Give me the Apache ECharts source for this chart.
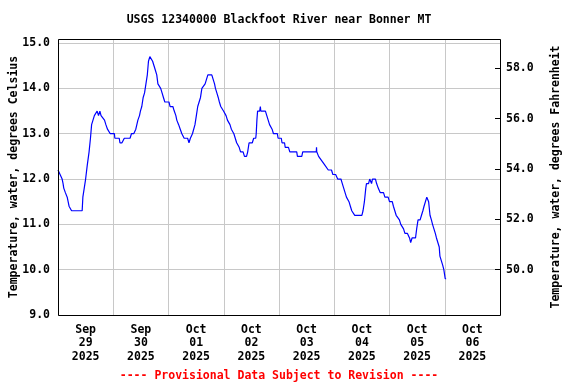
<!DOCTYPE html>
<html><head><meta charset="utf-8">
<script src="https://cdn.jsdelivr.net/npm/echarts@6/dist/echarts.min.js"></script>
<style>html,body{margin:0;padding:0;background:#fff}#c{width:576px;height:384px}</style>
</head><body><div id="c"></div>
<script>
// ---- data ----
const titleText = 'USGS 12340000 Blackfoot River near Bonner MT';
const footerText = '---- Provisional Data Subject to Revision ----';
const leftAxisName = 'Temperature, water, degrees Celsius';
const rightAxisName = 'Temperature, water, degrees Fahrenheit';
const dayLabels = ['Sep\n29\n2025','Sep\n30\n2025','Oct\n01\n2025','Oct\n02\n2025','Oct\n03\n2025','Oct\n04\n2025','Oct\n05\n2025','Oct\n06\n2025'];
const celsiusTicks = [9,10,11,12,13,14,15];
const fahrenheitTicks = [50,52,54,56,58];
// hours since Sep 29 2025 00:00
const hours = [
0,0.9,1.8,2.2,2.5,3.2,4.0,4.4,4.8,5.9,10.5,10.8,11.4,12.0,12.7,13.5,14.1,14.6,15.2,15.8,17.0,17.6,18.2,18.7,19.5,20.2,20.8,21.5,22.7,24.5,24.7,26.6,26.9,27.8,28.8,31.3,31.9,32.9,
33.8,34.7,35.4,35.8,36.4,37.0,37.6,38.2,38.8,39.3,39.9,40.5,41.1,41.7,42.3,42.9,43.4,44.0,44.6,45.2,45.8,46.4,48.2,48.7,49.9,50.5,51.2,51.6,52.4,53.1,53.8,54.8,56.3,56.9,57.5,58.4,59.0,59.5,60.1,60.7,61.3,61.9,62.5,63.3,63.9,64.5,65.1,66.8,67.4,68.0,
68.4,69.0,69.6,70.1,70.7,71.3,71.9,72.4,73.0,73.6,74.1,74.7,75.3,75.9,76.4,77.0,77.6,78.1,78.7,79.3,79.9,80.4,81.0,81.9,82.4,83.0,84.4,85.0,85.9,86.1,86.4,86.7,87.6,87.9,88.1,90.1,90.7,91.3,91.9,92.4,93.0,93.6,94.1,95.3,95.6,97.0,97.3,98.4,98.7,100.1,100.7,102.1,
103.7,104.0,105.9,106.3,112.2,112.3,112.4,113.2,113.9,114.6,115.4,116.0,116.8,117.4,118.8,119.4,120.6,121.5,122.9,123.5,124.1,124.7,125.3,125.8,126.4,127.0,127.6,128.2,128.9,132.0,132.5,133.1,133.7,134.0,134.9,135.4,
136.2,136.6,137.9,138.4,139.1,140.0,141.4,142.0,143.4,144.0,145.2,145.7,146.3,146.9,147.7,148.3,148.9,149.5,150.1,150.7,151.8,152.7,153.2,153.8,155.3,155.8,156.1,156.4,157.3,157.9,158.5,159.0,159.6,160.2,160.5,161.0,161.6,162.2,162.7,163.3,163.9,164.4,165.0,165.6,165.9,166.5,167.1,167.6,167.9,168.2,168.6
];
const tempC = [
12.2,12.1,12.0,11.9,11.8,11.7,11.6,11.5,11.4,11.3,11.3,11.6,11.8,12.0,12.3,12.6,12.9,13.2,13.3,13.4,13.5,13.4,13.5,13.4,13.4,13.3,13.2,13.1,13.0,13.0,12.9,12.9,12.8,12.8,12.9,12.9,13.0,13.0,
13.1,13.3,13.4,13.5,13.6,13.8,13.9,14.1,14.3,14.6,14.7,14.7,14.6,14.5,14.4,14.3,14.1,14.1,14.0,13.9,13.8,13.7,13.7,13.6,13.6,13.5,13.4,13.3,13.2,13.1,13.0,12.9,12.9,12.8,12.9,13.0,13.0,13.2,13.4,13.6,13.7,13.8,14.0,14.0,14.1,14.2,14.3,14.3,14.2,14.1,
14.0,13.9,13.8,13.7,13.6,13.6,13.5,13.5,13.4,13.3,13.3,13.2,13.1,13.1,13.0,12.9,12.8,12.8,12.7,12.6,12.6,12.6,12.5,12.5,12.6,12.8,12.8,12.9,12.9,13.0,13.3,13.5,13.5,13.6,13.5,13.5,13.4,13.3,13.2,13.2,13.1,13.0,13.0,13.0,12.9,12.9,12.8,12.8,12.7,12.7,12.6,12.6,
12.6,12.5,12.5,12.6,12.6,12.7,12.6,12.5,12.5,12.4,12.4,12.3,12.3,12.2,12.2,12.1,12.1,12.0,12.0,11.9,11.8,11.7,11.6,11.6,11.5,11.4,11.3,11.3,11.2,11.2,11.3,11.5,11.8,11.9,11.9,12.0,
11.9,12.0,12.0,11.9,11.8,11.7,11.7,11.6,11.6,11.5,11.5,11.4,11.3,11.2,11.2,11.1,11.0,11.0,10.9,10.8,10.8,10.7,10.6,10.7,10.7,10.9,11.0,11.1,11.1,11.2,11.3,11.4,11.4,11.6,11.6,11.5,11.2,11.1,11.0,10.9,10.8,10.7,10.6,10.5,10.3,10.2,10.1,10.0,9.9,9.8,9.8
];

// ---- layout / style ----
const G = {left: 58, top: 39, width: 442, height: 276};
const FONT = 'DejaVu Sans Mono';
const FS = 11.5;
const cMin = 9, cMax = 15.09;
const toF = c => c * 1.8 + 32;

const chart = echarts.init(document.getElementById('c'), null, {renderer: 'canvas'});
chart.setOption({
  animation: false,
  backgroundColor: '#fff',
  textStyle: {fontFamily: FONT, fontWeight: 'bold', color: '#000'},
  grid: {left: G.left, top: G.top, width: G.width, height: G.height, show: false, containLabel: false, outerBoundsMode: 'none'},
  graphic: [
    {type: 'text', x: 279, y: 20, z: 100, style: {text: titleText, font: 'bold ' + FS + 'px "' + FONT + '"', fill: '#000', textAlign: 'center', textVerticalAlign: 'middle'}},
    {type: 'text', x: 279, y: 376, z: 100, style: {text: footerText, font: 'bold ' + FS + 'px "' + FONT + '"', fill: '#ff0000', textAlign: 'center', textVerticalAlign: 'middle'}},
    {type: 'rect', z: 100, silent: true, shape: {x: G.left + 0.5, y: G.top + 0.5, width: G.width, height: G.height}, style: {fill: 'none', stroke: '#000', lineWidth: 1}}
  ],
  xAxis: [
    {type: 'value', min: 0, max: 192, interval: 24, gridIndex: 0,
     axisLine: {show: false}, axisTick: {show: false}, axisLabel: {show: false},
     splitLine: {show: true, lineStyle: {color: '#c8c8c8', width: 1}}},
    {type: 'category', data: dayLabels, boundaryGap: true, position: 'bottom', gridIndex: 0,
     axisLine: {show: false}, axisTick: {show: false}, splitLine: {show: false},
     axisLabel: {interval: 0, margin: 8, fontFamily: FONT, fontWeight: 'bold', fontSize: FS, lineHeight: 13.5, color: '#000'}}
  ],
  yAxis: [
    {type: 'value', min: cMin, max: cMax, interval: 1, position: 'left',
     name: leftAxisName, nameLocation: 'middle', nameRotate: 90, nameGap: 38, nameMoveOverlap: false,
     nameTextStyle: {fontFamily: FONT, fontWeight: 'bold', fontSize: FS, color: '#000'},
     axisLine: {show: false}, axisTick: {show: false},
     axisLabel: {customValues: celsiusTicks, margin: 8, fontFamily: FONT, fontWeight: 'bold', fontSize: FS, color: '#000', formatter: v => v.toFixed(1)},
     splitLine: {show: true, lineStyle: {color: '#c8c8c8', width: 1}}},
    {type: 'value', min: toF(cMin), max: toF(cMax), position: 'right',
     name: rightAxisName, nameLocation: 'middle', nameRotate: 90, nameGap: 50,
     nameTextStyle: {fontFamily: FONT, fontWeight: 'bold', fontSize: FS, color: '#000'},
     axisLine: {show: false},
     axisTick: {show: true, inside: true, length: 5, customValues: fahrenheitTicks, lineStyle: {color: '#000', width: 1}},
     axisLabel: {customValues: fahrenheitTicks, margin: 6, fontFamily: FONT, fontWeight: 'bold', fontSize: FS, color: '#000', formatter: v => v.toFixed(1)},
     splitLine: {show: false}}
  ],
  series: [{
    type: 'line', xAxisIndex: 0, yAxisIndex: 0,
    data: hours.map((h, i) => [h, tempC[i]]),
    showSymbol: false, symbol: 'none',
    lineStyle: {color: '#0000ff', width: 1.2},
    z: 10
  }]
});
</script>
</body></html>
